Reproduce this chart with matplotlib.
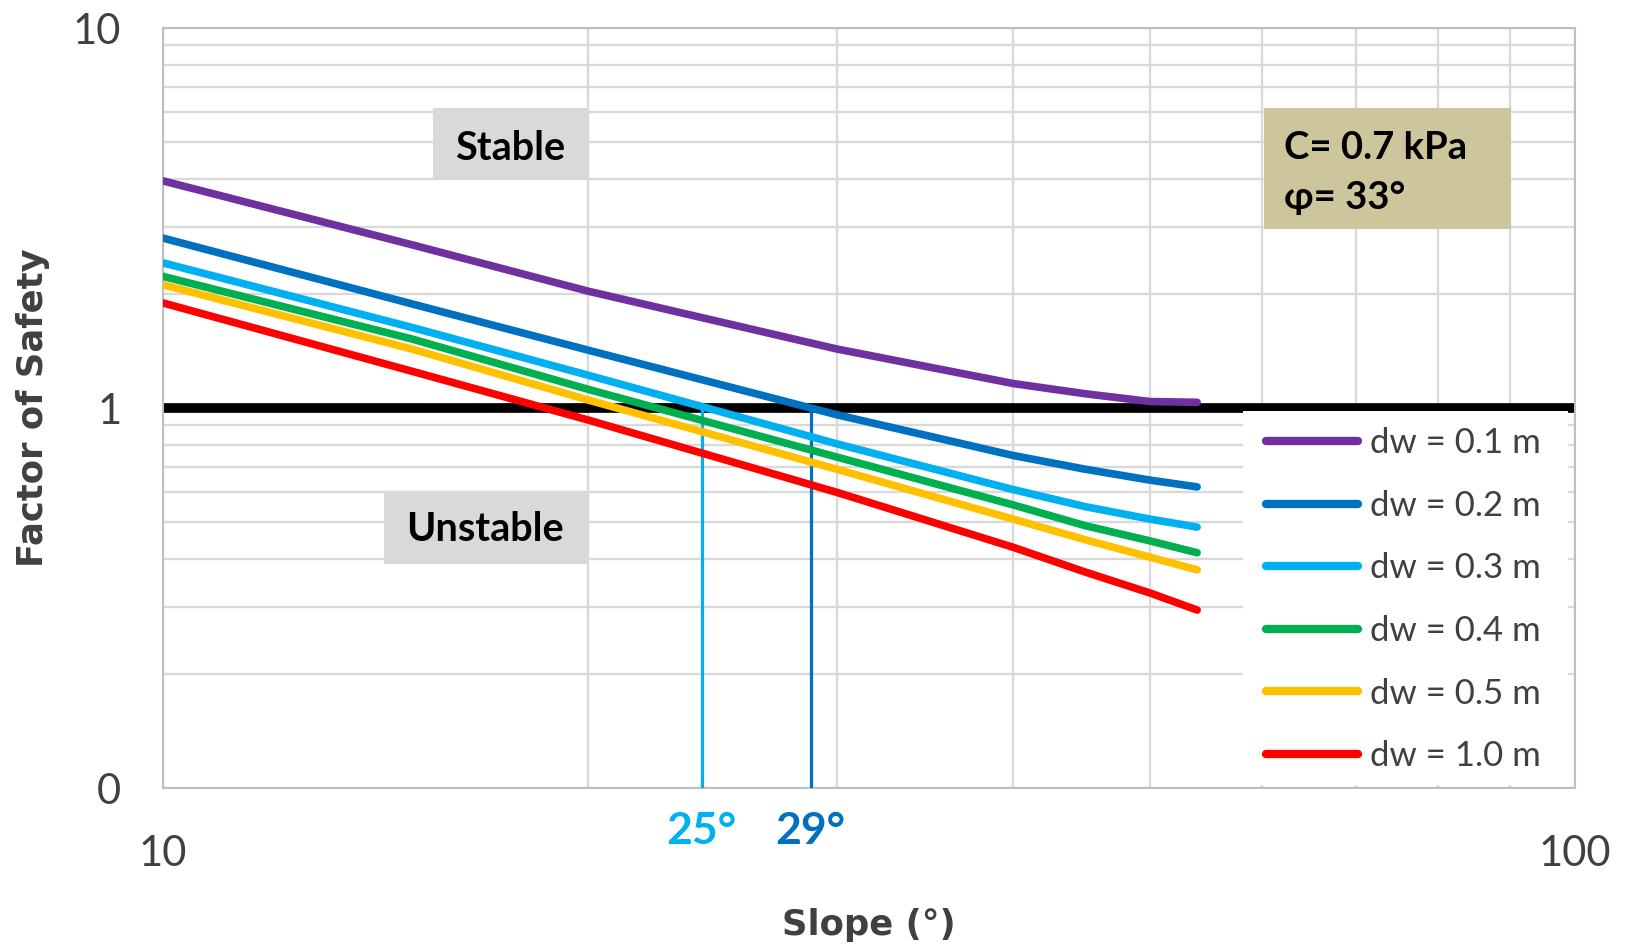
import matplotlib
matplotlib.use("Agg")
import matplotlib.pyplot as plt
from matplotlib.patches import Rectangle
from matplotlib.ticker import FixedLocator, NullFormatter

# slope angle (deg) and factor of safety
slope = [10, 15, 20, 30, 40, 45, 50, 54]
fs_01 = [3.96, 2.69, 2.03, 1.43, 1.16, 1.09, 1.04, 1.035]
fs_02 = [2.80, 1.88, 1.42, 0.96, 0.75, 0.69, 0.646, 0.62]
fs_03 = [2.41, 1.63, 1.22, 0.805, 0.61, 0.55, 0.51, 0.486]
fs_04 = [2.22, 1.52, 1.12, 0.743, 0.556, 0.49, 0.447, 0.416]
fs_05 = [2.11, 1.43, 1.05, 0.69, 0.51, 0.45, 0.405, 0.375]
fs_10 = [1.89, 1.25, 0.93, 0.60, 0.43, 0.37, 0.326, 0.294]

labels = ["dw = 0.1 m", "dw = 0.2 m", "dw = 0.3 m", "dw = 0.4 m", "dw = 0.5 m", "dw = 1.0 m"]
colors = ["#7030a0", "#0070c0", "#00b0f0", "#00b050", "#ffc000", "#ff0000"]

# slopes where FS = 1 for dw = 0.3 m and dw = 0.2 m
crit_slope = [24.07, 28.75]
crit_label = ["25°", "29°"]
crit_color = ["#00b0f0", "#0070c0"]

x_ticks = [10, 100]
x_ticklabels = ["10", "100"]
y_ticks = [0.1, 1, 10]
y_ticklabels = ["0", "1", "10"]

TXT = "#404040"
GRID = "#d9d9d9"

plt.rcParams["font.family"] = ["Lato", "DejaVu Sans"]

fig = plt.figure(figsize=(16.28, 9.47), dpi=100, facecolor="white")
ax = fig.add_axes([163 / 1628, 1 - 788 / 947, 1412 / 1628, 760 / 947])

ax.set_xscale("log")
ax.set_yscale("log")
ax.set_xlim(10, 100)
ax.set_ylim(0.1, 10)

ax.xaxis.set_major_locator(FixedLocator(x_ticks))
ax.yaxis.set_major_locator(FixedLocator(y_ticks))
ax.set_xticklabels(x_ticklabels)
ax.set_yticklabels(y_ticklabels)
ax.xaxis.set_minor_formatter(NullFormatter())
ax.yaxis.set_minor_formatter(NullFormatter())
ax.tick_params(which="both", length=0)
ax.tick_params(axis="x", pad=34, labelsize=30, labelcolor=TXT)
ax.tick_params(axis="y", pad=30, labelsize=30, labelcolor=TXT)

ax.grid(True, which="both", color=GRID, linewidth=1.7, zorder=0)
ax.set_axisbelow(True)
for sp in ax.spines.values():
    sp.set_color("#bfbfbf")
    sp.set_linewidth(1.5)

# FS = 1 limit
ax.axhline(1, color="black", linewidth=7, zorder=2)

series = [fs_01, fs_02, fs_03, fs_04, fs_05, fs_10]
for fs, lab, col in zip(series, labels, colors):
    ax.plot(slope, fs, color=col, linewidth=5.5, solid_capstyle="round",
            solid_joinstyle="round", label=lab, zorder=4)

for xs, lab, col in zip(crit_slope, crit_label, crit_color):
    ax.plot([xs, xs], [0.1, 1], color=col, linewidth=2.3, zorder=3)
    ax.text(xs, -0.057, lab, transform=ax.get_xaxis_transform(), ha="center", va="center",
            fontsize=32, fontweight="bold", color=col)

# region labels
ax.add_patch(Rectangle((0.191, 0.801), 0.109, 0.094, transform=ax.transAxes,
                       facecolor="#d9d9d9", edgecolor="none", zorder=5))
ax.text(0.2455, 0.842, "Stable", transform=ax.transAxes, ha="center", va="center",
        fontsize=28.5, fontweight="bold", color="black", zorder=6)
ax.add_patch(Rectangle((0.1565, 0.295), 0.1435, 0.094, transform=ax.transAxes,
                       facecolor="#d9d9d9", edgecolor="none", zorder=5))
ax.text(0.2283, 0.340, "Unstable", transform=ax.transAxes, ha="center", va="center",
        fontsize=28.5, fontweight="bold", color="black", zorder=6)

# soil parameters
ax.add_patch(Rectangle((0.7797, 0.7355), 0.175, 0.1592, transform=ax.transAxes,
                       facecolor="#cdc69c", edgecolor="none", zorder=5))
ax.text(0.794, 0.842, "C= 0.7 kPa", transform=ax.transAxes, ha="left", va="center",
        fontsize=27.5, fontweight="bold", color="black", zorder=6)
ax.text(0.794, 0.776, "φ= 33°", transform=ax.transAxes, ha="left", va="center",
        fontsize=27.5, fontweight="bold", color="black", zorder=6)

# legend background
ax.add_patch(Rectangle((0.765, 0.004), 0.23, 0.492, transform=ax.transAxes,
                       facecolor="white", edgecolor="none", zorder=6))
leg = ax.legend(
    loc="upper left",
    bbox_to_anchor=(0.7815, 0.4745),
    borderaxespad=0,
    frameon=False,
    fontsize=25,
    handlelength=2.64,
    handletextpad=0.35,
    labelspacing=0.88,
    borderpad=0,
)
leg.set_zorder(7)
for t in leg.get_texts():
    t.set_color(TXT)
for h in leg.get_lines():
    h.set_linewidth(6)

ax.set_xlabel("Slope (°)", family="DejaVu Sans", fontsize=25.5, fontweight="bold", color=TXT, va="center")
ax.xaxis.set_label_coords(0.5, -0.180)
ax.set_ylabel("Factor of Safety", family="DejaVu Sans", fontsize=25.5, fontweight="bold", color=TXT, va="center")
ax.yaxis.set_label_coords(-0.092, 0.5)

fig.savefig("out.png", dpi=100, facecolor="white")
